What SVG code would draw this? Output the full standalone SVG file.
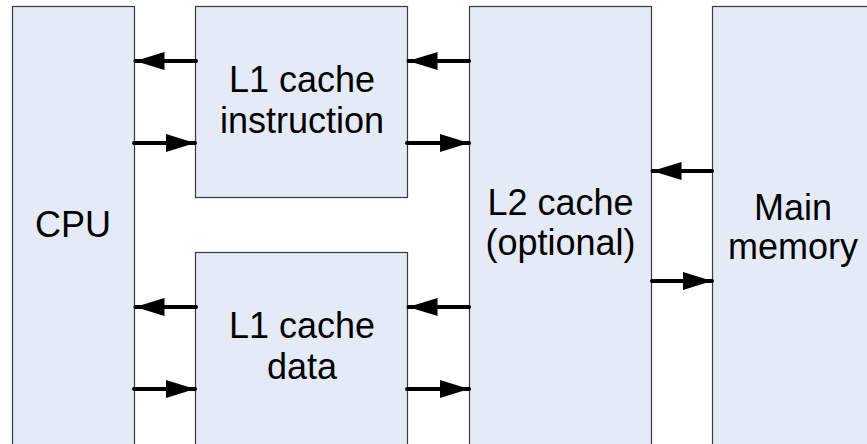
<svg xmlns="http://www.w3.org/2000/svg" width="867" height="444" viewBox="0 0 867 444">
<style>
.box{fill:#E4EBF6;stroke:#3a3a3a;stroke-width:1.2}
.lbl{font-family:"Liberation Sans",Arial,sans-serif;font-size:36px;fill:#000;text-anchor:middle}
.conn{stroke:#000;stroke-width:4;stroke-linecap:round;fill:none;marker-end:url(#ah)}
</style>
<defs>
<marker id="ah" viewBox="0 0 29 18" markerWidth="29" markerHeight="18" refX="29" refY="9" orient="auto" markerUnits="userSpaceOnUse">
<path d="M0,0 L29,9 L0,18 z" fill="#000"/>
</marker>
</defs>
<rect width="867" height="444" fill="#fff"/>
<g id="cpu">
<rect class="box" x="12.5" y="6.5" width="122" height="450"/>
<text class="lbl" x="73" y="237">CPU</text>
</g>
<g id="l1-instruction">
<rect class="box" x="195.5" y="6.5" width="212" height="191"/>
<text class="lbl" x="302" y="92">L1 cache</text>
<text class="lbl" x="302" y="133">instruction</text>
</g>
<g id="l1-data">
<rect class="box" x="195.5" y="252.5" width="212" height="220"/>
<text class="lbl" x="302" y="338">L1 cache</text>
<text class="lbl" x="302" y="379">data</text>
</g>
<g id="l2">
<rect class="box" x="469.5" y="6.5" width="182" height="450"/>
<text class="lbl" x="560.5" y="215">L2 cache</text>
<text class="lbl" x="560.5" y="255">(optional)</text>
</g>
<g id="main-memory">
<rect class="box" x="712.5" y="6.5" width="180" height="450"/>
<text class="lbl" x="793" y="220">Main</text>
<text class="lbl" x="793" y="259">memory</text>
</g>
<g id="connectors">
<line class="conn" x1="196" y1="61" x2="135.5" y2="61"/>
<line class="conn" x1="134" y1="143" x2="195" y2="143"/>
<line class="conn" x1="469" y1="61" x2="408.5" y2="61"/>
<line class="conn" x1="407" y1="143" x2="469" y2="143"/>
<line class="conn" x1="469" y1="307" x2="408.5" y2="307"/>
<line class="conn" x1="407" y1="389" x2="469" y2="389"/>
<line class="conn" x1="196" y1="307" x2="135.5" y2="307"/>
<line class="conn" x1="134" y1="389" x2="195" y2="389"/>
<line class="conn" x1="712" y1="171" x2="652.5" y2="171"/>
<line class="conn" x1="652" y1="281" x2="712" y2="281"/>
</g>
</svg>
